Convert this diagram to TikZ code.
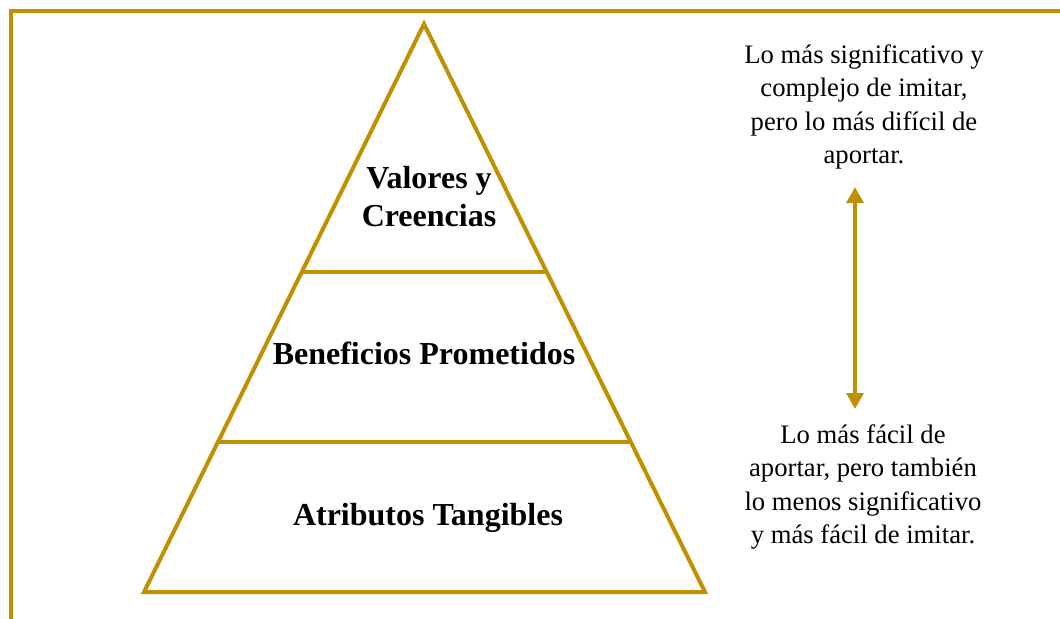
\documentclass[tikz,border=0pt]{standalone}
\usepackage{fontspec}
\setmainfont{Liberation Serif}
\usetikzlibrary{arrows.meta,calc}
\definecolor{oro}{RGB}{191,144,0}

\begin{document}
\begin{tikzpicture}[x=0.75pt,y=-0.75pt,
  linea/.style={draw=oro,line width=3pt},
  nivel/.style={font=\fontsize{24}{28.5}\selectfont\bfseries,align=center,inner sep=1pt},
  nota/.style={font=\fontsize{20}{25}\selectfont,align=center,inner sep=1pt}]
\useasboundingbox (0,0) rectangle (1060,618);
% marco
\draw[linea,line cap=rect] (10.5,618)--(10.5,10.5)--(1060,10.5);
% piramide
\coordinate (cima) at (424,24);
\coordinate (izq) at (144,592);
\coordinate (der) at (705,592);
\draw[linea,line join=miter] (cima)--(der)--(izq)--cycle;
\draw[linea] ($(cima)!0.436!(izq)$)--($(cima)!0.436!(der)$);
\draw[linea] ($(cima)!0.736!(izq)$)--($(cima)!0.736!(der)$);
\node[nivel] (valores) at (429,197) {Valores y\\Creencias};
\node[nivel] (beneficios) at (424,353) {Beneficios Prometidos};
\node[nivel] (atributos) at (428,518) {Atributos Tangibles};
% textos de la derecha
\node[nota] (dificil) at (864,107) {Lo más significativo y\\complejo de imitar,\\pero lo más difícil de\\aportar.};
\node[nota] (facil) at (863,487) {Lo más fácil de\\aportar, pero también\\lo menos significativo\\y más fácil de imitar.};
\coordinate (arriba) at (855,187);
\coordinate (abajo) at (855,409);
\draw[oro,line width=3pt,{Triangle[width=12.5pt,length=12pt]}-{Triangle[width=12.5pt,length=12pt]}] (arriba)--(abajo);
\end{tikzpicture}
\end{document}
